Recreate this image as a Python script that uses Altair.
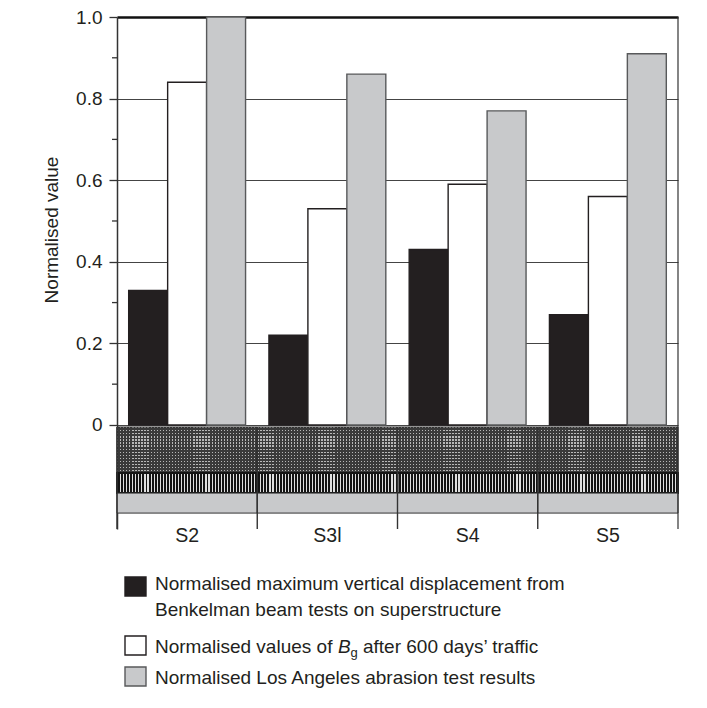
import altair as alt
import pandas as pd

# ---------------- data ----------------
sites = ["S2", "S3l", "S4", "S5"]
series = [
    "Normalised maximum vertical displacement",
    "Normalised values of Bg after 600 days' traffic",
    "Normalised Los Angeles abrasion test results",
]
displacement = [0.33, 0.22, 0.43, 0.27]
bg_values = [0.84, 0.53, 0.59, 0.56]
la_abrasion = [1.00, 0.86, 0.77, 0.91]
y_ticks = [0, 0.2, 0.4, 0.6, 0.8, 1.0]
y_minor = [0.1, 0.3, 0.5, 0.7, 0.9]

rows = []
for s, a, b, c in zip(sites, displacement, bg_values, la_abrasion):
    rows.append({"site": s, "series": series[0], "value": a})
    rows.append({"site": s, "series": series[1], "value": b})
    rows.append({"site": s, "series": series[2], "value": c})
df = pd.DataFrame(rows)
site_df = pd.DataFrame({"site": sites})
minor_df = pd.DataFrame({"value": y_minor})
one = pd.DataFrame({"k": [0]})

# ---------------- style ----------------
W, H = 561, 512
Y_MIN = -0.255
FONT = "Liberation Sans"
INK = "#231f20"


def stripes(c_on, c_off, n, duty, along_x=True):
    stops = []
    for i in range(n):
        a = round(i / n, 5)
        b = round((i + duty) / n, 5)
        c = round((i + 1) / n, 5)
        stops += [
            alt.GradientStop(offset=a, color=c_on),
            alt.GradientStop(offset=b, color=c_on),
            alt.GradientStop(offset=b, color=c_off),
            alt.GradientStop(offset=c, color=c_off),
        ]
    if along_x:
        return alt.LinearGradient(gradient="linear", stops=stops, x1=0, x2=1, y1=0, y2=0)
    return alt.LinearGradient(gradient="linear", stops=stops, x1=0, x2=0, y1=0, y2=1)


xs = alt.Scale(paddingInner=0, paddingOuter=0)
ys = alt.Scale(domain=[Y_MIN, 1.0], nice=False, zero=False)

y_axis = alt.Axis(
    values=y_ticks,
    labelExpr="datum.value == 0 ? '0' : format(datum.value, '.1f')",
    tickSize=8, tickColor="#333", tickWidth=1.3,
    domainColor="#333", domainWidth=1.5,
    grid=True, zindex=0,
    gridColor={"condition": {"test": "datum.value >= 0.99", "value": "#111"}, "value": "#444"},
    gridWidth={"condition": {"test": "datum.value >= 0.99", "value": 2.5}, "value": 1.2},
    labelFont=FONT, labelFontSize=19, labelColor=INK, labelPadding=7,
    title="Normalised value", titleFont=FONT, titleFontSize=19, titleFontWeight="normal",
    titleColor=INK, titleX=-60, titleY=212.5, titleAngle=270,
    titleAlign="center", titleBaseline="alphabetic",
)
x_axis = alt.Axis(
    orient="bottom", domain=False, ticks=False, labelAngle=0,
    labelFont=FONT, labelFontSize=19.5, labelColor=INK,
    labelBaseline="alphabetic", labelPadding=12, title=None, grid=False,
)

bars = alt.Chart(df).mark_bar(strokeWidth=1.4).encode(
    x=alt.X("site:N", sort=sites, scale=xs, axis=x_axis),
    xOffset=alt.XOffset("series:N", sort=series,
                        scale=alt.Scale(paddingInner=0, paddingOuter=0.3)),
    y=alt.Y("value:Q", scale=ys, axis=y_axis),
    color=alt.Color("series:N", sort=series, legend=None,
                    scale=alt.Scale(domain=series, range=[INK, "#ffffff", "#c8c9cb"])),
    stroke=alt.Stroke("series:N", sort=series, legend=None,
                      scale=alt.Scale(domain=series, range=[INK, INK, "#58595b"])),
)

minor_ticks = alt.Chart(minor_df).mark_rule(color="#333", strokeWidth=1.3).encode(
    y=alt.Y("value:Q", scale=ys), x=alt.value(-5), x2=alt.value(0)
)


def band(y0, y1, fill, stroke=None, sw=1.0):
    kw = {"fill": fill}
    if stroke:
        kw.update(stroke=stroke, strokeWidth=sw)
    return alt.Chart(site_df).mark_rect(**kw).encode(
        x=alt.X("site:N", sort=sites, scale=xs),
        y=alt.YDatum(datum=y0, scale=ys),
        y2=alt.Y2Datum(datum=y1),
    )


dotted_base = band(-0.005, -0.118, stripes("#b8b8b8", "#3a3a3a", 46, 0.42, True))
dotted_over = band(-0.005, -0.118,
                   stripes("rgba(58,58,58,0)", "rgba(58,58,58,1)", 15, 0.42, False),
                   stroke="#2a2a2a", sw=1.0)
hatch = band(-0.118, -0.167, stripes("#e0e0e0", "#141414", 46, 0.36, True),
             stroke="#141414", sw=2.0)
grey_band = band(-0.167, -0.216, "#c8c9cb", stroke="#333", sw=1.0)

dividers = alt.Chart(site_df).mark_rule(color="#333", strokeWidth=1.4).encode(
    x=alt.X("site:N", sort=sites, scale=xs, bandPosition=0),
    y=alt.YDatum(datum=-0.005, scale=ys),
    y2=alt.Y2Datum(datum=Y_MIN),
)
right_edge = alt.Chart(one).mark_rule(color="#333", strokeWidth=1.2).encode(
    x=alt.value(W), y=alt.YDatum(datum=1.0, scale=ys), y2=alt.Y2Datum(datum=Y_MIN)
)


def box(x0, y0, x1, y1, fill, stroke):
    return alt.Chart(one).mark_rect(fill=fill, stroke=stroke, strokeWidth=1.4).encode(
        x=alt.value(x0), x2=alt.value(x1), y=alt.value(y0), y2=alt.value(y1)
    )


def label(txt, x, y, size=19, italic=False):
    return alt.Chart(one).mark_text(
        text=txt, align="left", baseline="alphabetic", font=FONT, fontSize=size,
        color=INK, fontStyle="italic" if italic else "normal",
    ).encode(x=alt.value(x), y=alt.value(y))


legend = [
    box(8, 560, 29, 579, INK, INK),
    label("Normalised maximum vertical displacement from", 38, 573),
    label("Benkelman beam tests on superstructure", 38, 599),
    box(8, 619, 29, 638, "#ffffff", INK),
    label("Normalised values of", 38, 636),
    label("B", 221, 636, italic=True),
    label("g", 233.5, 640, size=13),
    label("after 600 days\u2019 traffic", 246, 636),
    box(8, 650, 29, 669, "#c8c9cb", "#58595b"),
    label("Normalised Los Angeles abrasion test results", 38, 667),
]

chart = alt.layer(
    bars, minor_ticks, dotted_base, dotted_over, hatch, grey_band, dividers, right_edge,
    *legend
).properties(
    width=W, height=H,
    padding={"left": 109, "top": 9, "right": 21, "bottom": 171},
    autosize=alt.AutoSizeParams(type="none"),
    background="white",
).configure_view(stroke=None)

chart.save("out.html", embed_options={"renderer": "svg", "actions": False})
